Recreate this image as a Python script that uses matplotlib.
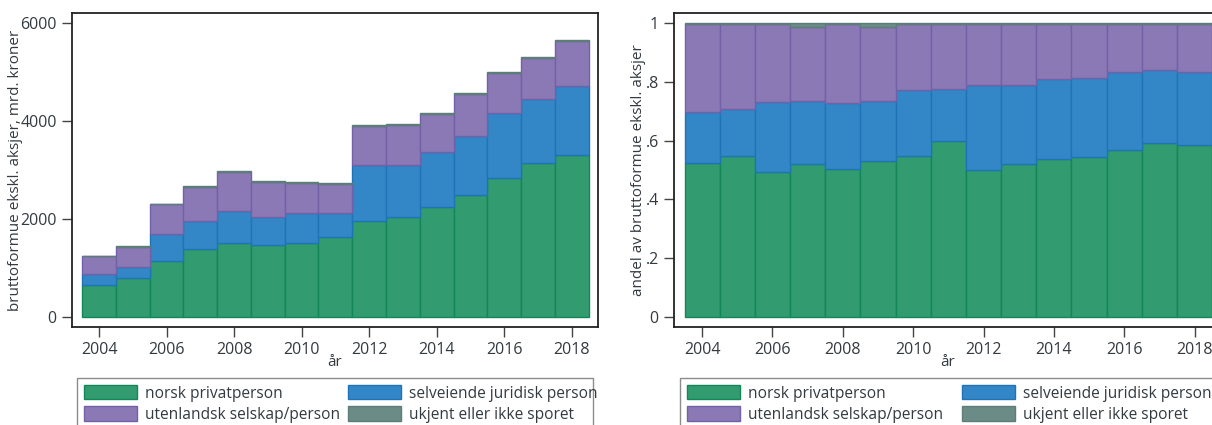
import numpy as np
import matplotlib
matplotlib.use("Agg")
import matplotlib.pyplot as plt
from matplotlib.patches import Patch, Rectangle

plt.rcParams['font.family'] = ['Open Sans', 'DejaVu Sans']

# bruttoformue ekskl. aksjer, mrd. kroner, etter eiertype
years = np.arange(2004, 2019)
norsk = np.array([650, 789, 1143, 1395, 1503, 1476, 1510, 1633, 1959, 2041, 2245, 2490, 2837, 3143, 3299])
selveiende = np.array([218, 231, 551, 571, 660, 565, 612, 489, 1136, 1061, 1122, 1211, 1326, 1313, 1408])
utenlandsk = np.array([370, 415, 612, 680, 803, 707, 619, 599, 810, 816, 783, 843, 810, 830, 919])
ukjent = np.array([5, 6, 9, 34, 12, 34, 12, 11, 15, 15, 16, 18, 20, 21, 22])

labels = ["norsk privatperson", "selveiende juridisk person",
          "utenlandsk selskap/person", "ukjent eller ikke sporet"]
fills = ["#339b70", "#3487c6", "#8b79b5", "#6b8b87"]
edges = ["#12875a", "#1f74b8", "#7260a8", "#5d7d79"]

W, H = 1212, 425
TXT = "#333a40"


def fx(px):
    return px / W


def fy(py):
    return 1 - py / H


def draw_panel(fig, rect, series, yticks, yticklabels, ylim, ylabel, ylab_x):
    left, top, right, bottom = rect
    ax = fig.add_axes([fx(left), fy(bottom), fx(right - left), (bottom - top) / H])
    base = np.zeros(len(years))
    for vals, fc, ec in zip(series, fills, edges):
        ax.bar(years, vals, width=1.0, bottom=base, color=fc, edgecolor=ec, linewidth=1.0)
        base = base + vals
    ax.set_xlim(2003.2, 2018.78)
    ax.set_ylim(*ylim)
    ax.set_xticks(np.arange(2004, 2019, 2))
    ax.set_yticks(yticks)
    ax.set_yticklabels(yticklabels)
    ax.tick_params(axis='both', length=7, width=1, color='#444444', labelcolor=TXT,
                   labelsize=11.5, pad=4)
    for s in ax.spines.values():
        s.set_linewidth(1.3)
        s.set_color('#222222')
    ax.set_xlabel("år", fontsize=11, color=TXT)
    ax.xaxis.set_label_coords(0.5, -0.088)
    ax.set_ylabel(ylabel, fontsize=11, color=TXT)
    ax.yaxis.set_label_coords((ylab_x - left) / (right - left), 0.5)
    return ax


def draw_legend(fig, box_left, box_right, col2_offset):
    # boks rundt forklaringen, kuttet nederst
    fig.add_artist(Rectangle((fx(box_left), fy(440)), fx(box_right - box_left), 62 / H,
                             transform=fig.transFigure, fill=False,
                             edgecolor='#8c8c8c', linewidth=1.0))
    order = [0, 2, 1, 3]
    for col in range(2):
        handles = []
        for i in order[col * 2:col * 2 + 2]:
            handles.append(Patch(facecolor=fills[i], edgecolor=edges[i], linewidth=1.0,
                                 label=labels[i]))
        fig.legend(handles=handles, loc='upper left',
                   bbox_to_anchor=(fx(box_left + 7 + col * col2_offset), fy(385)),
                   frameon=False, borderpad=0, borderaxespad=0,
                   handlelength=3.4, handleheight=1.05, handletextpad=0.5,
                   labelspacing=0.3, fontsize=11.2, labelcolor=TXT)


fig = plt.figure(figsize=(W / 100, H / 100), dpi=100)
fig.patch.set_facecolor('white')

draw_panel(fig, (72, 13, 598, 327), [norsk, selveiende, utenlandsk, ukjent],
           [0, 2000, 4000, 6000], ["0", "2000", "4000", "6000"], (-204, 6204),
           "bruttoformue ekskl. aksjer, mrd. kroner", 23)
draw_legend(fig, 77, 593, 264)

total = norsk + selveiende + utenlandsk + ukjent
shares = [s / total for s in (norsk, selveiende, utenlandsk, ukjent)]
draw_panel(fig, (674, 13, 1222, 327), shares,
           [0, .2, .4, .6, .8, 1], ["0", ".2", ".4", ".6", ".8", "1"], (-0.034, 1.034),
           "andel av bruttoformue ekskl. aksjer", 646)
draw_legend(fig, 680, 1240, 275)

fig.savefig("out.png", dpi=100)
